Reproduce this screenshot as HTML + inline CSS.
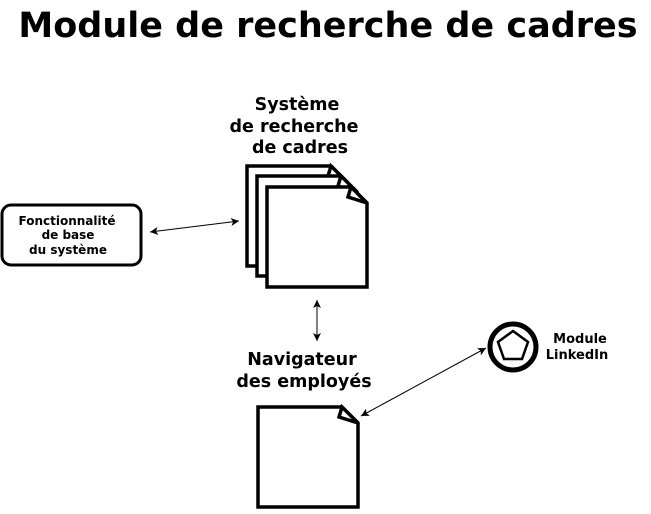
<!DOCTYPE html>
<html><head><meta charset="utf-8"><style>
body{margin:0;background:#fff;width:651px;height:509px;overflow:hidden}
text{font-family:"DejaVu Sans","Liberation Sans",sans-serif;font-weight:bold;fill:#000}
</style></head><body>
<svg width="651" height="509" viewBox="0 0 651 509" xmlns="http://www.w3.org/2000/svg">
<defs>
<marker id="a" markerWidth="10" markerHeight="10" refX="8" refY="4.5" orient="auto-start-reverse" markerUnits="userSpaceOnUse">
<path d="M0,0.5 L8,4.5 L0,8.5 L2,4.5 Z" fill="#000"/></marker>
</defs>
<text x="328" y="37" font-size="35" text-anchor="middle">Module de recherche de cadres</text>
<g font-size="17.5" text-anchor="middle">
<text x="297" y="110">Système</text>
<text x="294" y="132">de recherche</text>
<text x="300" y="153">de cadres</text>
<text x="302" y="365">Navigateur</text>
<text x="304" y="387">des employés</text>
</g>
<g font-size="13" text-anchor="middle">
<text x="580" y="343">Module</text>
<text x="577" y="359">LinkedIn</text>
</g>
<rect x="2" y="205" width="139" height="60" rx="9" fill="#fff" stroke="#000" stroke-width="3"/>
<g font-size="12" text-anchor="middle">
<text x="67" y="225">Fonctionnalité</text>
<text x="68" y="239">de base</text>
<text x="68" y="254">du système</text>
</g>
<g fill="#fff" stroke="#000" stroke-width="3.5" stroke-linejoin="miter">
<path d="M247,166 H331 L347,182 V266 H247 Z"/><path d="M331,166 L328,176 L347,182 Z"/>
<path d="M257,176 H341 L357,192 V276 H257 Z"/><path d="M341,176 L338,186 L357,192 Z"/>
<path d="M267,187 H351 L367,203 V287 H267 Z"/><path d="M351,187 L348,197 L367,203 Z"/>
<path d="M258,407 H342 L358,423 V507 H258 Z"/><path d="M342,407 L339,417 L358,423 Z"/>
</g>
<circle cx="513" cy="347" r="23" fill="#fff" stroke="#000" stroke-width="5"/>
<polygon points="513,331 528,342 522,359 504,359 498,342" fill="none" stroke="#000" stroke-width="2.5"/>
<g stroke="#000" stroke-width="1" fill="none" marker-start="url(#a)" marker-end="url(#a)">
<line x1="150" y1="232" x2="239" y2="221"/>
<line x1="317" y1="300" x2="317" y2="341"/>
<line x1="361" y1="416" x2="486" y2="348"/>
</g>
</svg>
</body></html>
